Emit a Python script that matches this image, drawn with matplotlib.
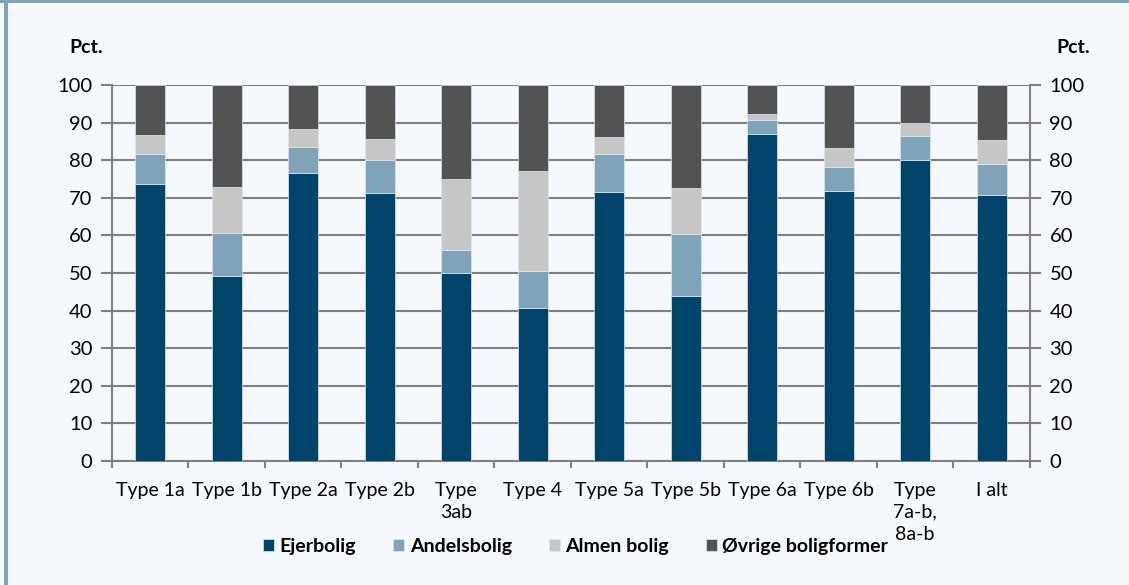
import numpy as np
import matplotlib.pyplot as plt
from matplotlib.patches import Rectangle

plt.rcParams['font.family'] = ['Lato', 'DejaVu Sans']

categories = ['Type 1a', 'Type 1b', 'Type 2a', 'Type 2b', 'Type\n3ab', 'Type 4',
              'Type 5a', 'Type 5b', 'Type 6a', 'Type 6b', 'Type\n7a-b,\n8a-b', 'I alt']

ejerbolig = [73.7, 49.2, 76.6, 71.3, 50.0, 40.7, 71.6, 43.9, 87.0, 71.8, 80.0, 70.7]
andelsbolig = [7.9, 11.4, 6.8, 8.7, 6.2, 9.8, 10.0, 16.6, 3.7, 6.4, 6.5, 8.3]
almen_bolig = [5.2, 12.4, 4.9, 5.7, 18.9, 26.5, 4.7, 12.2, 1.7, 5.1, 3.4, 6.4]
ovrige = [100 - a - b - c for a, b, c in zip(ejerbolig, andelsbolig, almen_bolig)]

series = [('Ejerbolig', ejerbolig, '#00446B'),
          ('Andelsbolig', andelsbolig, '#7FA3B8'),
          ('Almen bolig', almen_bolig, '#C6C6C6'),
          ('Øvrige boligformer', ovrige, '#535353')]

bg = '#F5F9FD'
fig = plt.figure(figsize=(11.29, 5.85), dpi=100, facecolor=bg)
ax = fig.add_axes([0.0992, 0.212, 0.8131, 0.6427], facecolor=bg)

# ramme
fig.patches.append(Rectangle((0.0035, 0), 0.0036, 1, transform=fig.transFigure,
                             facecolor='#7FA3B8', edgecolor='none'))
fig.patches.append(Rectangle((0, 0.995), 1, 0.005, transform=fig.transFigure,
                             facecolor='#7FA3B8', edgecolor='none'))

x = np.arange(len(categories))
bottom = np.zeros(len(categories))
for name, vals, col in series:
    ax.bar(x, vals, width=0.39, bottom=bottom, color=col, label=name,
           edgecolor='#dde8f0', linewidth=0.5, zorder=3)
    bottom += np.array(vals)

ax.set_xlim(-0.5, len(categories) - 0.5)
ax.set_ylim(0, 100)
ax.set_yticks(np.arange(0, 101, 10))
ax.grid(axis='y', color='#808080', linewidth=1.5, zorder=0)
ax.set_axisbelow(True)

ax.spines['top'].set_visible(False)
for s in ['left', 'right', 'bottom']:
    ax.spines[s].set_color('#808080')
    ax.spines[s].set_linewidth(1.5)

ax.set_xticks(x)
ax.set_xticklabels(categories, fontsize=14, va='top', linespacing=1.35)
ax.set_xticks(np.arange(-0.5, len(categories), 1), minor=True)
ax.tick_params(axis='x', which='major', length=0, pad=15)
ax.tick_params(axis='x', which='minor', length=5, width=1.5, color='#808080')
ax.tick_params(axis='y', which='both', length=8, width=1.5, color='#808080',
               labelsize=14.5, left=True, right=True, labelleft=True, labelright=True, pad=6)

fig.text(0.076, 0.918, 'Pct.', fontsize=14, fontweight='bold', ha='center', va='center')
fig.text(0.951, 0.918, 'Pct.', fontsize=14, fontweight='bold', ha='center', va='center')

leg = fig.legend(loc='center', bbox_to_anchor=(0.51, 0.066), ncol=4, frameon=False,
                 handlelength=0.55, handleheight=0.6, handletextpad=0.3, columnspacing=1.9,
                 prop={'weight': 'bold', 'size': 14})

fig.savefig('out.png', dpi=100, facecolor=bg)
